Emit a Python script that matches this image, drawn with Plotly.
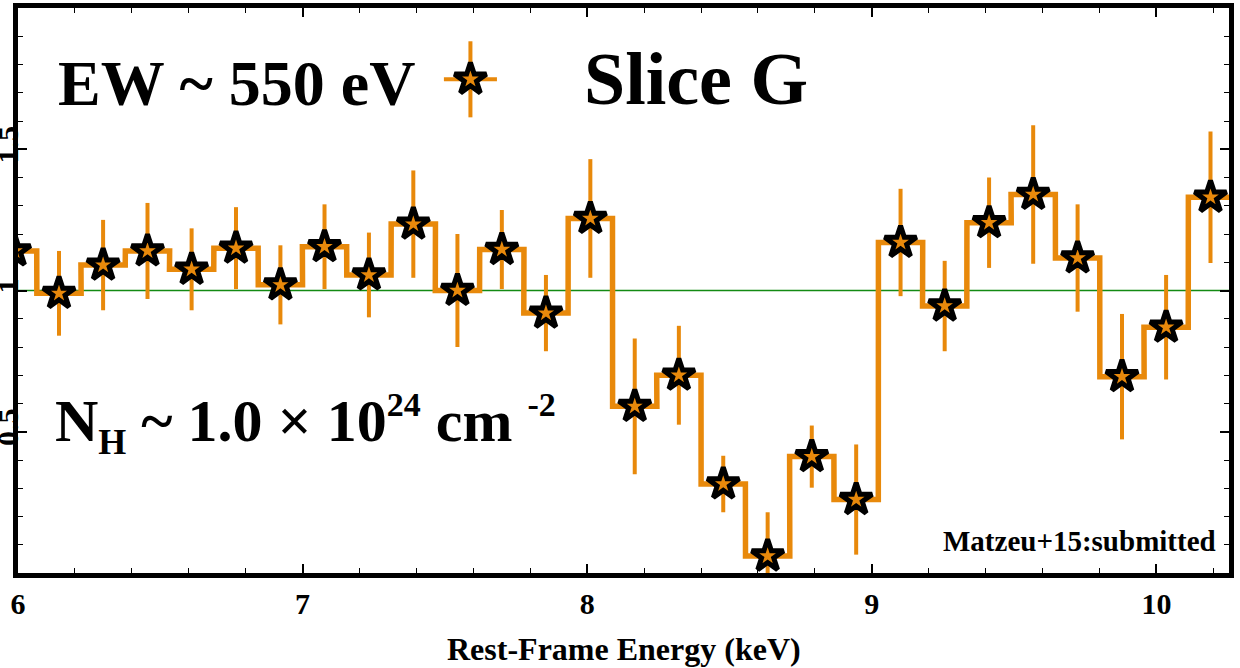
import plotly.graph_objects as go

# ---- data ----
energy = [5.988, 6.144, 6.299, 6.455, 6.610, 6.766, 6.922, 7.077, 7.233, 7.389,
          7.544, 7.700, 7.855, 8.011, 8.167, 8.322, 8.478, 8.634, 8.789, 8.945,
          9.101, 9.256, 9.412, 9.567, 9.723, 9.879, 10.034, 10.190]
ratio = [1.14, 0.99, 1.09, 1.14, 1.075, 1.15, 1.02, 1.155, 1.055, 1.235,
         1.00, 1.145, 0.92, 1.255, 0.59, 0.70, 0.315, 0.06, 0.412, 0.26,
         1.17, 0.945, 1.24, 1.34, 1.115, 0.695, 0.87, 1.33]
ratio_err = [0.15, 0.15, 0.16, 0.17, 0.145, 0.145, 0.14, 0.15, 0.15, 0.19,
             0.20, 0.14, 0.135, 0.21, 0.24, 0.175, 0.10, 0.155, 0.11, 0.195,
             0.19, 0.16, 0.16, 0.245, 0.19, 0.222, 0.185, 0.233]
bin_halfwidth = 0.0778

x_tickvals = [6, 7, 8, 9, 10]
x_ticktext = ["6", "7", "8", "9", "10"]
y_tickvals = [0.5, 1, 1.5]
y_ticktext = ["0.5", "1", "1.5"]
model_level = 1.0

ORANGE = "#E8890B"
FONT = "Liberation Serif"
STAR = dict(symbol="star", size=24, color=ORANGE, line=dict(color="black", width=5))

# step (histogram) outline built from the bins
step_x, step_y = [], []
for e, r in zip(energy, ratio):
    step_x += [e - bin_halfwidth, e + bin_halfwidth]
    step_y += [r, r]

fig = go.Figure()
fig.add_trace(go.Scatter(x=step_x, y=step_y, mode="lines",
                         line=dict(color=ORANGE, width=5.5),
                         showlegend=False, hoverinfo="skip"))
fig.add_trace(go.Scatter(x=energy, y=ratio, mode="markers", marker=STAR,
                         error_y=dict(type="data", array=ratio_err, color=ORANGE,
                                      thickness=4, width=0),
                         cliponaxis=True, showlegend=False))
# legend key (errorbar cross + star) on an overlay axis in fractional units
fig.add_trace(go.Scatter(x=[0.3736], y=[0.8738], xaxis="x2", yaxis="y2",
                         mode="markers", marker=STAR,
                         error_x=dict(type="constant", value=0.0219, color=ORANGE,
                                      thickness=4, width=0),
                         error_y=dict(type="constant", value=0.0673, color=ORANGE,
                                      thickness=4, width=0),
                         showlegend=False, hoverinfo="skip"))

fig.add_shape(type="line", xref="paper", x0=0, x1=1, yref="y",
              y0=model_level, y1=model_level,
              line=dict(color="#138a13", width=1.6), layer="below")

axis_common = dict(
    showline=True, linewidth=5, linecolor="black", mirror="allticks",
    ticks="inside", ticklen=9, tickwidth=1.5, tickcolor="black",
    showgrid=False, zeroline=False, automargin=False,
    tickfont=dict(family=FONT, size=30, color="black", weight="bold"),
)

fig.update_layout(
    width=1240, height=668,
    margin=dict(l=18, r=11, t=8, b=95),
    paper_bgcolor="white", plot_bgcolor="white",
    showlegend=False,
    xaxis=dict(range=[6, 10.255], tickvals=x_tickvals, ticktext=x_ticktext,
               minor=dict(dtick=0.2, ticks="inside", ticklen=5, tickwidth=1.2,
                          tickcolor="black", showgrid=False),
               ticklabelstandoff=0, **axis_common),
    yaxis=dict(range=[0, 2], tickvals=y_tickvals, ticktext=y_ticktext,
               tickangle=-90,
               minor=dict(dtick=0.1, ticks="inside", ticklen=5, tickwidth=1.2,
                          tickcolor="black", showgrid=False),
               ticklabelstandoff=-17, **axis_common),
    xaxis2=dict(overlaying="x", anchor="y2", range=[0, 1], visible=False),
    yaxis2=dict(overlaying="y", anchor="x2", range=[0, 1], visible=False),
)

big = dict(family=FONT, size=64, color="black", weight="bold")
fig.add_annotation(xref="paper", yref="paper", x=0.0316, y=0.8655,
                   xanchor="left", yanchor="middle", showarrow=False,
                   text="EW ~ 550 eV", font=big)
fig.add_annotation(xref="paper", yref="paper", x=0.4655, y=0.874,
                   xanchor="left", yanchor="middle", showarrow=False,
                   text="Slice G", font=dict(family=FONT, size=74, color="black", weight="bold"))
fig.add_annotation(xref="paper", yref="paper", x=0.0285, y=0.2637,
                   xanchor="left", yanchor="middle", showarrow=False,
                   text="N<sub><span style='font-size:36px'>H</span></sub> ~ 1.0 × 10"
                        "<sup><span style='font-size:34px'>24</span></sup>"
                        " cm <sup><span style='font-size:34px'>-2</span></sup>",
                   font=dict(family=FONT, size=60, color="black", weight="bold"))
fig.add_annotation(xref="paper", yref="paper", x=0.991, y=0.0566,
                   xanchor="right", yanchor="middle", showarrow=False,
                   text="Matzeu+15:submitted",
                   font=dict(family=FONT, size=29, color="black", weight="bold"))
fig.add_annotation(xref="paper", yref="paper", x=0.5, y=-0.1345,
                   xanchor="center", yanchor="middle", showarrow=False,
                   text="Rest-Frame Energy (keV)",
                   font=dict(family=FONT, size=32, color="black", weight="bold"))

fig.write_html("out.html", config={"displayModeBar": False},
               post_script="document.body.style.margin='0';")
